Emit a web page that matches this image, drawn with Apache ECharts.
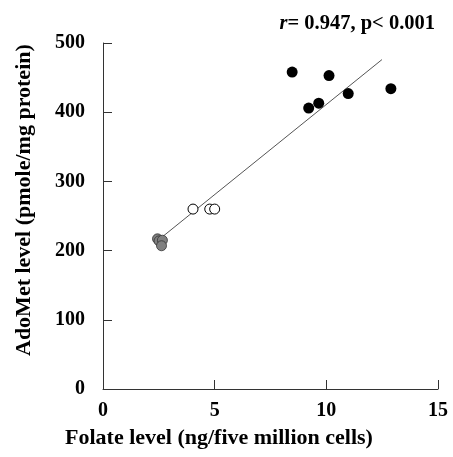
<!DOCTYPE html>
<html>
	<head>
		<meta charset="utf-8">
		<title>Folate vs AdoMet</title>
		<style type="text/css">
			html,body {
				margin: 0;
				padding: 0;
				background: #FFFFFF;
			}
			#chart {
				width: 453px;
				height: 457px;
			}
		</style>
	</head>
	<body>
		<div id="chart"></div>
		<script src="https://cdn.jsdelivr.net/npm/echarts@6/dist/echarts.min.js" type="text/javascript" charset="utf-8"></script>
		<script type="text/javascript">
			// data
			var blackX = [8.47, 10.12, 9.21, 9.66, 10.98, 12.89];
			var blackY = [458, 453, 406, 413, 427, 434];
			var openX = [4.03, 4.78, 5.0];
			var openY = [260, 260, 260];
			var grayX = [2.44, 2.51, 2.66, 2.62];
			var grayY = [217, 214, 215, 207];
			var fitX = [2.66, 12.49];
			var fitY = [220, 476];
			var xTicks = [0, 5, 10, 15];
			var yTicks = [0, 100, 200, 300, 400, 500];

			function pairs(xs, ys) {
				var out = [];
				for (var i = 0; i < xs.length; i++) {
					out.push([xs[i], ys[i]]);
				}
				return out;
			}

			var font = '"Liberation Serif", "Times New Roman", serif';
			var myChart = echarts.init(document.getElementById('chart'));
			var option = {
				animation: false,
				backgroundColor: '#FFFFFF',
				grid: {
					left: 103,
					right: 15,
					top: 43,
					bottom: 68
				},
				xAxis: {
					type: 'value',
					min: xTicks[0],
					max: xTicks[xTicks.length - 1],
					interval: 5,
					splitLine: { show: false },
					axisLine: { lineStyle: { color: '#333', width: 1 } },
					axisTick: { inside: true, length: 9, lineStyle: { color: '#333' } },
					axisLabel: { fontFamily: font, fontWeight: 'bold', fontSize: 20, color: '#000', margin: 12 }
				},
				yAxis: {
					type: 'value',
					min: yTicks[0],
					max: yTicks[yTicks.length - 1],
					interval: 100,
					splitLine: { show: false },
					axisLine: { show: true, lineStyle: { color: '#333', width: 1 } },
					axisTick: { show: true, inside: true, length: 9, lineStyle: { color: '#333' } },
					axisLabel: { fontFamily: font, fontWeight: 'bold', fontSize: 20, color: '#000', margin: 18 }
				},
				graphic: [
					{
						type: 'text',
						left: 65,
						top: 427,
						style: {
							text: 'Folate level (ng/five million cells)',
							font: 'bold 22px ' + font,
							fill: '#000'
						}
					},
					{
						type: 'text',
						x: 13,
						y: 356,
						rotation: Math.PI / 2,
						style: {
							text: 'AdoMet level (pmole/mg protein)',
							font: 'bold 22px ' + font,
							fill: '#000',
							verticalAlign: 'top'
						}
					},
					{
						type: 'text',
						right: 18,
						top: 13,
						style: {
							rich: {
								i: { font: 'italic bold 20.5px ' + font, fill: '#000' },
								b: { font: 'bold 20.5px ' + font, fill: '#000' }
							},
							text: '{i|r}{b|= 0.947, p< 0.001}'
						}
					}
				],
				series: [
					{
						type: 'line',
						data: pairs(fitX, fitY),
						symbol: 'none',
						lineStyle: { color: '#555', width: 1 },
						z: 1
					},
					{
						type: 'scatter',
						data: pairs(grayX, grayY),
						symbolSize: 10,
						itemStyle: { color: '#808080', borderColor: '#333', borderWidth: 0.8, opacity: 1 },
						z: 2
					},
					{
						type: 'scatter',
						data: pairs(openX, openY),
						symbolSize: 10,
						itemStyle: { color: '#FFFFFF', borderColor: '#000', borderWidth: 1, opacity: 1 },
						z: 3
					},
					{
						type: 'scatter',
						data: pairs(blackX, blackY),
						symbolSize: 11,
						itemStyle: { color: '#000', opacity: 1 },
						z: 4
					}
				]
			};
			myChart.setOption(option, true);
		</script>
	</body>
</html>
